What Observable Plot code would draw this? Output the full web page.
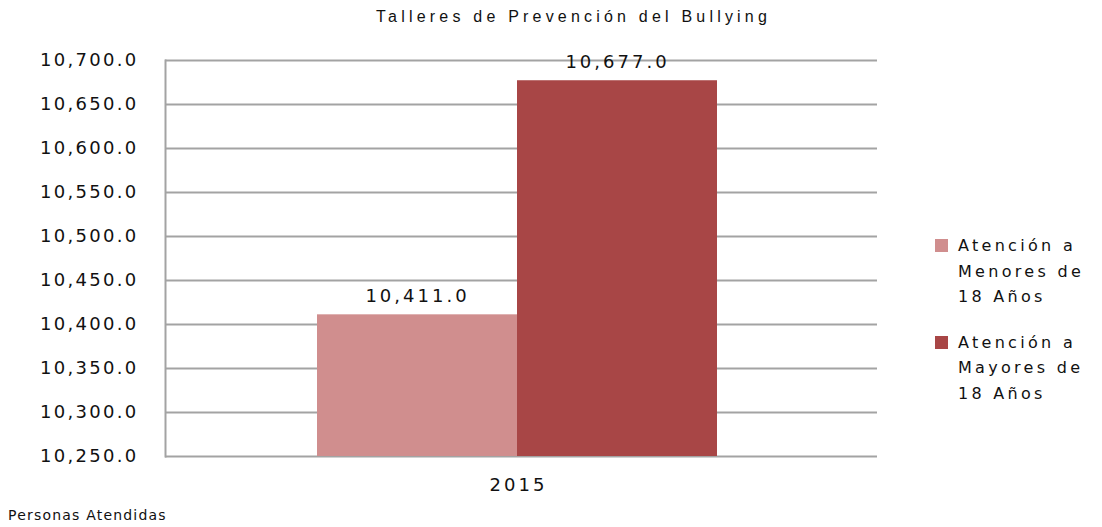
<!DOCTYPE html>
<html><head><meta charset="utf-8">
<script src="https://cdn.jsdelivr.net/npm/d3@7"></script>
<script src="https://cdn.jsdelivr.net/npm/@observablehq/plot@0.6"></script>
<style>
body{margin:0;background:#fff;}
#wrap{position:relative;width:1102px;height:527px;font-family:"DejaVu Sans",sans-serif;}
#title{position:absolute;top:8px;left:0;width:1147px;text-align:center;font-family:"Liberation Sans",Arial,sans-serif;font-size:16px;letter-spacing:4.2px;color:#111;}
#legend{position:absolute;left:935px;top:233px;font-size:16px;letter-spacing:3.3px;color:#111;line-height:25.5px;}
.item{display:flex;align-items:flex-start;margin-bottom:20px;}
.sw{width:13px;height:13px;margin-top:6px;margin-right:10px;flex:none;}
#caption{position:absolute;left:8px;top:507px;font-size:14px;letter-spacing:1.2px;color:#111;}
</style></head>
<body><div id="wrap"></div>
<script>
const title = "Talleres de Prevención del Bullying";
const caption = "Personas Atendidas";
const year = "2015";
const series = ["Atención a Menores de 18 Años", "Atención a Mayores de 18 Años"];
const legendLines = [["Atención a", "Menores de", "18 Años"], ["Atención a", "Mayores de", "18 Años"]];
const values = [10411, 10677];
const colors = ["#D08E8E", "#A84646"];
const yTicks = [10250, 10300, 10350, 10400, 10450, 10500, 10550, 10600, 10650, 10700];

const data = series.map((s, i) => ({series: s, value: values[i], year}));
const fmt = d3.format(",.1f");

const chart = Plot.plot({
  width: 1102, height: 527,
  marginTop: 60, marginBottom: 71, marginLeft: 165, marginRight: 225,
  style: {fontFamily: "DejaVu Sans, sans-serif", background: "#fff"},
  x: {domain: series, axis: null, paddingInner: 0, paddingOuter: 0.78, align: 0.487},
  y: {domain: [10250, 10700], ticks: yTicks, tickFormat: fmt, tickSize: 0, tickPadding: 27, label: null},
  color: {domain: series, range: colors},
  marks: [
    Plot.ruleY(yTicks, {stroke: "#a3a3a3", strokeWidth: 2}),
    Plot.frame({anchor: "left", stroke: "#a3a3a3", strokeWidth: 2}),
    Plot.barY(data, {x: "series", y1: 10250, y2: "value", fill: "series"}),
    Plot.text(data, {x: "series", y: "value", text: d => fmt(d.value), dy: -19, fontSize: 18, fill: "#111"}),
    Plot.text([year], {text: d => d, frameAnchor: "bottom", dx: -3, dy: 34, fontSize: 18, fill: "#111"})
  ]
});
chart.querySelectorAll("g[aria-label='y-axis tick label']").forEach(g => {
  g.style.fontSize = "18px"; g.style.letterSpacing = "2.3px"; g.style.fill = "#111";
});
chart.querySelectorAll("g[aria-label='text'] text").forEach(t => { t.style.letterSpacing = "3px"; });

const wrap = document.getElementById("wrap");
wrap.appendChild(chart);
chart.style.position = "absolute"; chart.style.left = "0"; chart.style.top = "0";
const t = document.createElement("div"); t.id = "title"; t.textContent = title; wrap.appendChild(t);
const lg = document.createElement("div"); lg.id = "legend";
legendLines.forEach((lines, i) => {
  const it = document.createElement("div"); it.className = "item";
  const sw = document.createElement("div"); sw.className = "sw"; sw.style.background = colors[i];
  const tx = document.createElement("div"); tx.innerHTML = lines.join("<br>");
  it.appendChild(sw); it.appendChild(tx); lg.appendChild(it);
});
wrap.appendChild(lg);
const c = document.createElement("div"); c.id = "caption"; c.textContent = caption; wrap.appendChild(c);
</script></body></html>
